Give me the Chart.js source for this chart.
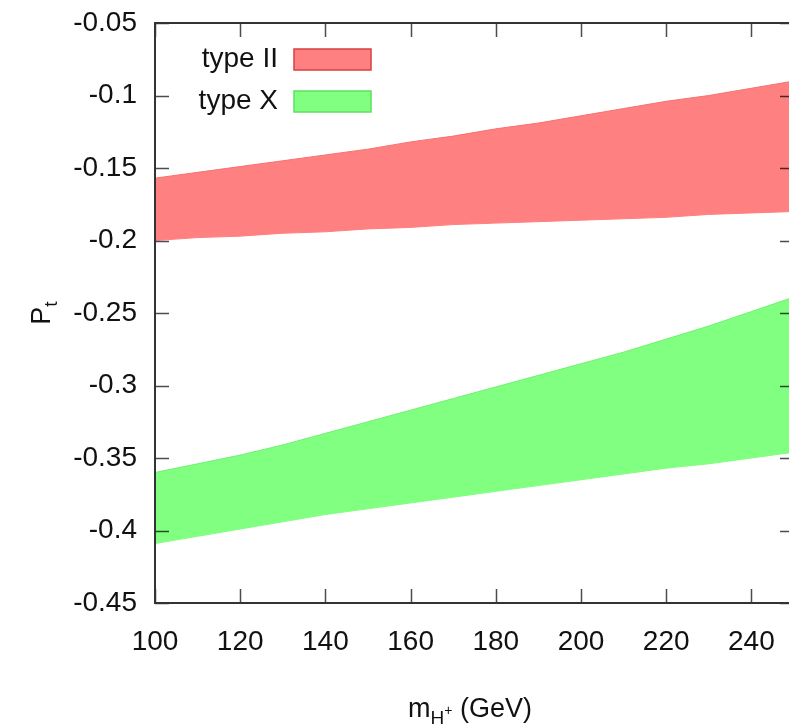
<!DOCTYPE html>
<html>
<head>
<meta charset="utf-8">
<script src="https://cdn.jsdelivr.net/npm/chart.js@4"></script>
<style>
  html, body { margin: 0; padding: 0; overflow: hidden; background: #fff; }
</style>
</head>
<body>
<canvas id="chart" width="806" height="727"></canvas>
<script>
const masses = [100, 110, 120, 130, 140, 150, 160, 170, 180, 190, 200, 210, 220, 230, 240, 250];
const typeIIUpper = [-0.157, -0.153, -0.149, -0.145, -0.141, -0.137, -0.132, -0.128, -0.123, -0.119, -0.114, -0.109, -0.104, -0.100, -0.095, -0.090];
const typeIILower = [-0.200, -0.198, -0.197, -0.195, -0.194, -0.192, -0.191, -0.189, -0.188, -0.187, -0.186, -0.185, -0.184, -0.182, -0.181, -0.180];
const typeXUpper = [-0.360, -0.354, -0.348, -0.341, -0.333, -0.325, -0.317, -0.309, -0.301, -0.293, -0.285, -0.277, -0.268, -0.259, -0.249, -0.239];
const typeXLower = [-0.409, -0.404, -0.399, -0.394, -0.389, -0.385, -0.381, -0.377, -0.373, -0.369, -0.365, -0.361, -0.357, -0.354, -0.350, -0.346];

const xTickValues = [100, 120, 140, 160, 180, 200, 220, 240];
const yTickValues = [-0.45, -0.4, -0.35, -0.3, -0.25, -0.2, -0.15, -0.1, -0.05];

const FONT = "'Liberation Sans', Arial, sans-serif";
const RED = "#ff8080";
const GREEN = "#80ff80";

const pts = (ys) => masses.map((m, i) => ({ x: m, y: ys[i] }));

// gnuplot-like frame, inward ticks on all four sides, key and axis titles
const framePlugin = {
  id: "frame",
  afterDatasetsDraw(chart) {
    const { ctx, chartArea: a, scales } = chart;
    ctx.save();
    ctx.strokeStyle = "rgba(0,0,0,0.7)";
    ctx.lineWidth = 1.5;
    const tl = 14;
    scales.x.ticks.forEach((t) => {
      const px = Math.round(scales.x.getPixelForValue(t.value)) + 0.5;
      ctx.beginPath();
      ctx.moveTo(px, a.bottom); ctx.lineTo(px, a.bottom - tl);
      ctx.moveTo(px, a.top); ctx.lineTo(px, a.top + tl);
      ctx.stroke();
    });
    scales.y.ticks.forEach((t) => {
      const py = Math.round(scales.y.getPixelForValue(t.value)) + 0.5;
      ctx.beginPath();
      ctx.moveTo(a.left, py); ctx.lineTo(a.left + tl, py);
      ctx.moveTo(a.right, py); ctx.lineTo(a.right - tl, py);
      ctx.stroke();
    });
    ctx.strokeStyle = "#333";
    ctx.lineWidth = 2;
    ctx.strokeRect(a.left, a.top, a.right - a.left, a.bottom - a.top);

    // key
    const entries = [
      { label: chart.data.datasets[0].label, fill: RED, stroke: "#d84040", cy: 59 },
      { label: chart.data.datasets[2].label, fill: GREEN, stroke: "#60e060", cy: 101 },
    ];
    ctx.font = "28px " + FONT;
    ctx.textAlign = "right";
    ctx.textBaseline = "middle";
    entries.forEach((e) => {
      ctx.fillStyle = "#111";
      ctx.fillText(e.label, 278, e.cy);
      ctx.fillStyle = e.fill;
      ctx.fillRect(294, e.cy - 10, 77, 21);
      ctx.strokeStyle = e.stroke;
      ctx.lineWidth = 1.5;
      ctx.strokeRect(294, e.cy - 10, 77, 21);
    });

    // y title: P_t
    ctx.fillStyle = "#111";
    ctx.save();
    ctx.translate(40, (a.top + a.bottom) / 2);
    ctx.rotate(-Math.PI / 2);
    ctx.textAlign = "left";
    ctx.textBaseline = "alphabetic";
    ctx.font = "27px " + FONT;
    const wP = ctx.measureText("P").width;
    ctx.font = "19px " + FONT;
    const wt = ctx.measureText("t").width;
    const x0 = -(wP + wt) / 2;
    ctx.font = "27px " + FONT;
    ctx.fillText("P", x0, 10);
    ctx.font = "19px " + FONT;
    ctx.fillText("t", x0 + wP, 17);
    ctx.restore();

    // x title: m_{H+} (GeV)
    ctx.textAlign = "left";
    ctx.textBaseline = "alphabetic";
    const base = 717;
    ctx.font = "27px " + FONT;
    const wm = ctx.measureText("m").width;
    const wRest = ctx.measureText(" (GeV)").width;
    ctx.font = "19px " + FONT;
    const wH = ctx.measureText("H").width;
    ctx.font = "14px " + FONT;
    const wPlus = ctx.measureText("+").width;
    let cx = 470 - (wm + wH + wPlus + wRest) / 2;
    ctx.font = "27px " + FONT;
    ctx.fillText("m", cx, base); cx += wm;
    ctx.font = "19px " + FONT;
    ctx.fillText("H", cx, base + 7); cx += wH;
    ctx.font = "14px " + FONT;
    ctx.fillText("+", cx, base - 2); cx += wPlus;
    ctx.font = "27px " + FONT;
    ctx.fillText(" (GeV)", cx, base);
    ctx.restore();
  },
};

new Chart(document.getElementById("chart"), {
  type: "line",
  data: {
    datasets: [
      { label: "type II", data: pts(typeIIUpper), fill: "+1", backgroundColor: RED, borderColor: "#f87070", borderWidth: 1, pointRadius: 0 },
      { label: "type II lower", data: pts(typeIILower), fill: false, borderColor: RED, borderWidth: 1, pointRadius: 0 },
      { label: "type X", data: pts(typeXUpper), fill: "+1", backgroundColor: GREEN, borderColor: "#70f070", borderWidth: 1, pointRadius: 0 },
      { label: "type X lower", data: pts(typeXLower), fill: false, borderColor: GREEN, borderWidth: 1, pointRadius: 0 },
    ],
  },
  options: {
    responsive: false,
    animation: false,
    layout: { padding: { top: 0, right: 12, left: 0, bottom: 0 } },
    plugins: {
      legend: { display: false },
      tooltip: { enabled: false },
    },
    scales: {
      x: {
        type: "linear",
        min: 100,
        max: 250,
        afterBuildTicks: (scale) => { scale.ticks = xTickValues.map((v) => ({ value: v })); },
        afterFit: (scale) => { scale.height = 124; scale.paddingLeft = 0; scale.paddingRight = 0; },
        grid: { display: false, drawTicks: false },
        border: { display: false },
        ticks: {
          color: "#111",
          padding: 22,
          maxRotation: 0,
          font: { family: FONT, size: 28 },
          callback: (v) => String(v),
        },
      },
      y: {
        min: -0.45,
        max: -0.05,
        afterBuildTicks: (scale) => { scale.ticks = yTickValues.map((v) => ({ value: v })); },
        afterFit: (scale) => { scale.width = 155; scale.paddingTop = 23; scale.paddingBottom = 0; },
        grid: { display: false, drawTicks: false },
        border: { display: false },
        ticks: {
          color: "#111",
          padding: 18,
          font: { family: FONT, size: 28 },
          callback: (v) => String(Number(v.toFixed(2))),
        },
      },
    },
  },
  plugins: [framePlugin],
});
</script>
</body>
</html>
